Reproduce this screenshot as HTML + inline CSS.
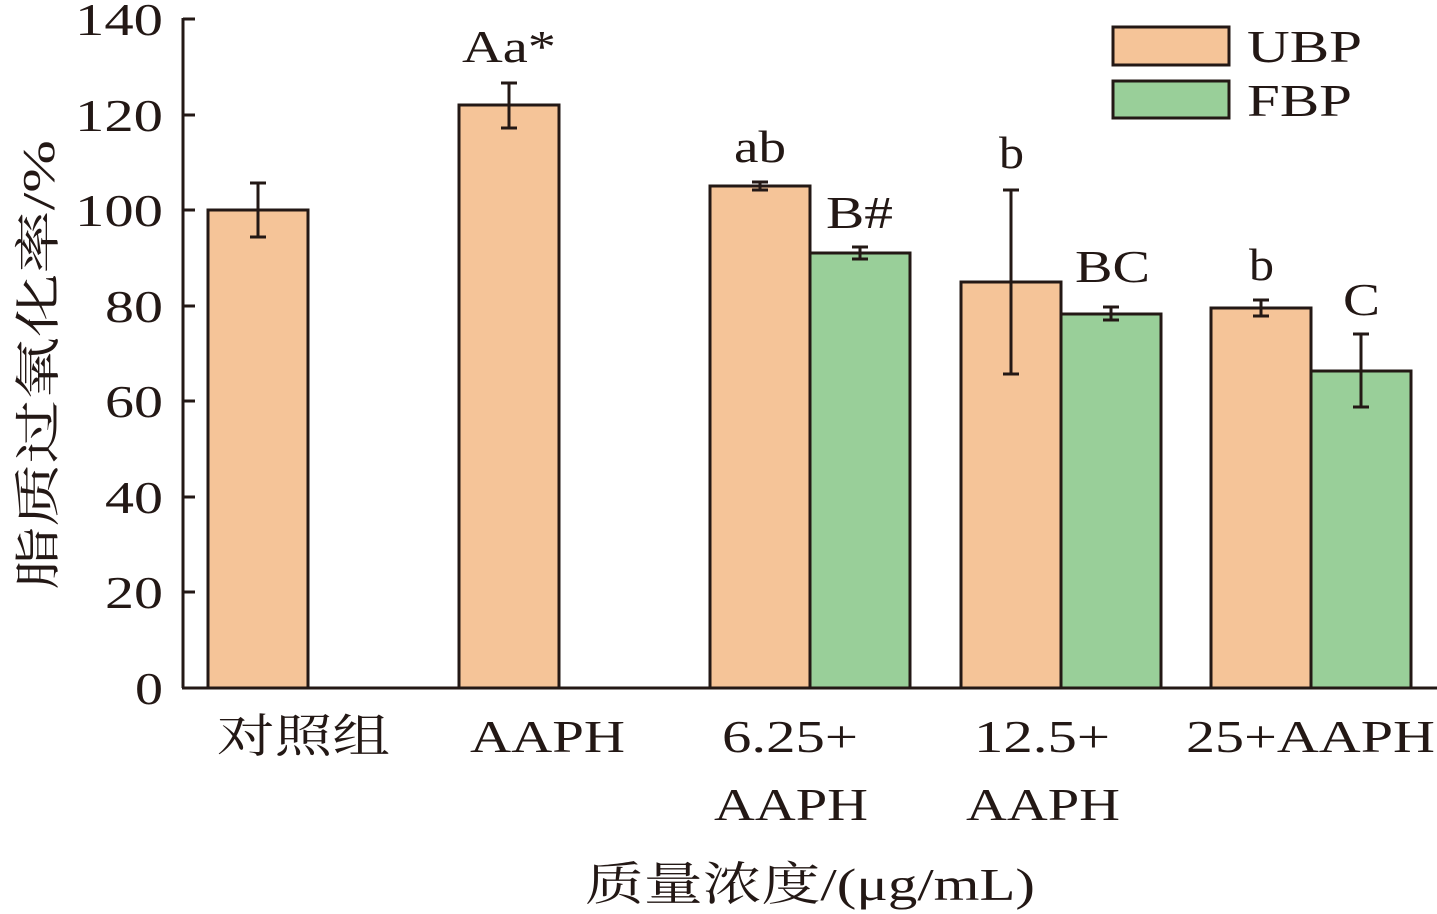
<!DOCTYPE html>
<html><head><meta charset="utf-8"><style>
html,body{margin:0;padding:0;background:#fff;}
svg{display:block;}
text{font-family:"Liberation Serif","Noto Serif CJK SC",serif;fill:#231815;}
</style></head><body>
<svg width="1437" height="914" viewBox="0 0 1437 914">
<g stroke="#231815" stroke-width="3">
<line x1="183" y1="18" x2="183" y2="688"/>
<line x1="182" y1="688" x2="1437" y2="688"/>
<line x1="183" y1="19" x2="195" y2="19"/>
<line x1="183" y1="115" x2="195" y2="115"/>
<line x1="183" y1="210" x2="195" y2="210"/>
<line x1="183" y1="306" x2="195" y2="306"/>
<line x1="183" y1="401" x2="195" y2="401"/>
<line x1="183" y1="497" x2="195" y2="497"/>
<line x1="183" y1="592" x2="195" y2="592"/>
</g>
<g font-size="46" lengthAdjust="spacingAndGlyphs">
<text x="75" y="35" textLength="88" lengthAdjust="spacingAndGlyphs">140</text>
<text x="75" y="131" textLength="88" lengthAdjust="spacingAndGlyphs">120</text>
<text x="75" y="226" textLength="88" lengthAdjust="spacingAndGlyphs">100</text>
<text x="105" y="322" textLength="58" lengthAdjust="spacingAndGlyphs">80</text>
<text x="105" y="417" textLength="58" lengthAdjust="spacingAndGlyphs">60</text>
<text x="105" y="513" textLength="58" lengthAdjust="spacingAndGlyphs">40</text>
<text x="105" y="608" textLength="58" lengthAdjust="spacingAndGlyphs">20</text>
<text x="135" y="704" textLength="28" lengthAdjust="spacingAndGlyphs">0</text>
</g>
<g stroke="#231815" stroke-width="3">
<rect x="208" y="210" width="100" height="478" fill="#F5C498"/>
<rect x="459" y="105" width="100" height="583" fill="#F5C498"/>
<rect x="710" y="186" width="100" height="502" fill="#F5C498"/>
<rect x="810" y="253" width="100" height="435" fill="#99CF99"/>
<rect x="961" y="282" width="100" height="406" fill="#F5C498"/>
<rect x="1061" y="314" width="100" height="374" fill="#99CF99"/>
<rect x="1211" y="308" width="100" height="380" fill="#F5C498"/>
<rect x="1311" y="371" width="100" height="317" fill="#99CF99"/>
</g>
<g stroke="#231815" stroke-width="3">
<path d="M258 183V237M250 183H266M250 237H266"/>
<path d="M509 83V128M501 83H517M501 128H517"/>
<path d="M760 182V190M752 182H768M752 190H768"/>
<path d="M860 247V259M852 247H868M852 259H868"/>
<path d="M1011 190V374M1003 190H1019M1003 374H1019"/>
<path d="M1111 307V320M1103 307H1119M1103 320H1119"/>
<path d="M1261 300V316M1253 300H1269M1253 316H1269"/>
<path d="M1361 334V407M1353 334H1369M1353 407H1369"/>
</g>
<g font-size="46">
<text x="462" y="62" textLength="94" lengthAdjust="spacingAndGlyphs">Aa*</text>
<text x="734" y="162" textLength="52" lengthAdjust="spacingAndGlyphs">ab</text>
<text x="826" y="228" textLength="67" lengthAdjust="spacingAndGlyphs">B#</text>
<text x="999" y="168" textLength="25" lengthAdjust="spacingAndGlyphs">b</text>
<text x="1075" y="282" textLength="75" lengthAdjust="spacingAndGlyphs">BC</text>
<text x="1249" y="280" textLength="25" lengthAdjust="spacingAndGlyphs">b</text>
<text x="1343" y="315" textLength="37" lengthAdjust="spacingAndGlyphs">C</text>
</g>
<g stroke="#231815" stroke-width="3">
<rect x="1113" y="27" width="116" height="38" fill="#F5C498"/>
<rect x="1113" y="81" width="116" height="37" fill="#99CF99"/>
</g>
<g font-size="46">
<text x="1247" y="62" textLength="115" lengthAdjust="spacingAndGlyphs">UBP</text>
<text x="1247" y="116" textLength="105" lengthAdjust="spacingAndGlyphs">FBP</text>
</g>
<g font-size="46">
<text x="217" y="752" textLength="173" lengthAdjust="spacingAndGlyphs">对照组</text>
<text x="470" y="752" textLength="155" lengthAdjust="spacingAndGlyphs">AAPH</text>
<text x="722" y="752" textLength="136" lengthAdjust="spacingAndGlyphs">6.25+</text>
<text x="714" y="820" textLength="154" lengthAdjust="spacingAndGlyphs">AAPH</text>
<text x="974" y="752" textLength="136" lengthAdjust="spacingAndGlyphs">12.5+</text>
<text x="966" y="820" textLength="154" lengthAdjust="spacingAndGlyphs">AAPH</text>
<text x="1186" y="752" textLength="249" lengthAdjust="spacingAndGlyphs">25+AAPH</text>
<text x="585" y="900" textLength="450" lengthAdjust="spacingAndGlyphs">质量浓度/(μg/mL)</text>
<text transform="translate(54,590) rotate(-90)" textLength="450" lengthAdjust="spacingAndGlyphs">脂质过氧化率/%</text>
</g>
</svg>
</body></html>
